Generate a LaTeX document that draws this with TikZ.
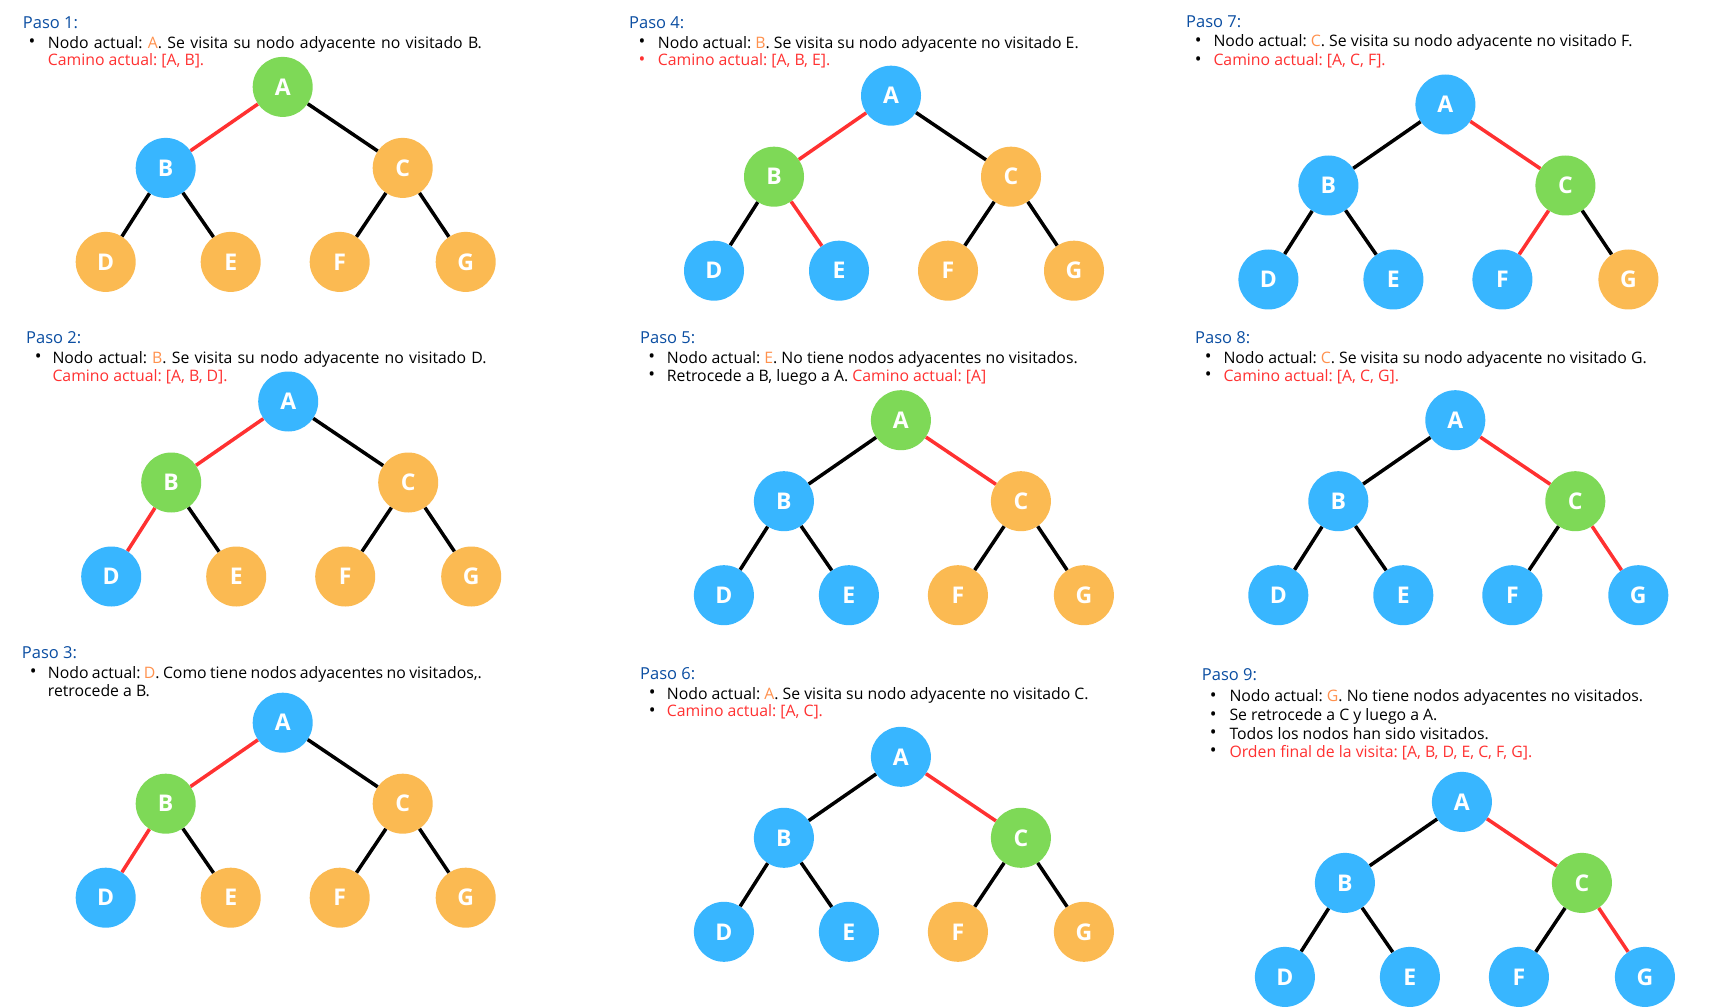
\documentclass[tikz,border=0pt]{standalone}
\usepackage{fontspec}
\setmainfont{Open Sans}
\definecolor{gn}{HTML}{7ED957}
\definecolor{bl}{HTML}{38B6FF}
\definecolor{orn}{HTML}{FBBA52}
\definecolor{ora}{HTML}{FF914D}
\definecolor{rd}{HTML}{FF3131}
\definecolor{hd}{HTML}{0B4EA2}
\tikzset{
  nd/.style={circle,minimum size=60pt,inner sep=0pt,text=white,font=\fontsize{23}{23}\selectfont\bfseries},
  eblk/.style={line width=3.5pt,draw=black},
  ered/.style={line width=3.5pt,draw=rd},
  txt/.style={anchor=base west,inner sep=0pt,font=\fontsize{15.8}{18}\selectfont\frenchspacing},
  hdg/.style={anchor=base west,inner sep=0pt,text=hd,font=\fontsize{16.5}{18}\selectfont},
  bul/.style={anchor=center,inner sep=0pt,yshift=5pt,font=\fontsize{18}{18}\selectfont},
}
\def\setcols#1/#2/#3/#4/#5/#6/#7\relax{\def\tcA{#1}\def\tcB{#2}\def\tcC{#3}\def\tcD{#4}\def\tcE{#5}\def\tcF{#6}\def\tcG{#7}}
\def\setedges#1/#2/#3/#4/#5/#6\relax{\def\teAB{#1}\def\teAC{#2}\def\teBD{#3}\def\teBE{#4}\def\teCF{#5}\def\teCG{#6}}
\newcommand\arbol[5]{%
  \setcols#4\relax\setedges#5\relax
  \begin{scope}[shift={(#2,#3)}]
    \node[nd,fill=\tcA] (#1A) at (0,0) {A};
    \node[nd,fill=\tcB] (#1B) at (-117,81) {B};
    \node[nd,fill=\tcC] (#1C) at (120,81) {C};
    \node[nd,fill=\tcD] (#1D) at (-177,175) {D};
    \node[nd,fill=\tcE] (#1E) at (-52,175) {E};
    \node[nd,fill=\tcF] (#1F) at (57,175) {F};
    \node[nd,fill=\tcG] (#1G) at (183,175) {G};
    \draw[\teAB] (#1A) -- (#1B);
    \draw[\teAC] (#1A) -- (#1C);
    \draw[\teBD] (#1B) -- (#1D);
    \draw[\teBE] (#1B) -- (#1E);
    \draw[\teCF] (#1C) -- (#1F);
    \draw[\teCG] (#1C) -- (#1G);
  \end{scope}}
\newcommand\oc[1]{\textcolor{ora}{#1}}
\begin{document}
\begin{tikzpicture}[x=1pt,y=-1pt]
\fill[white] (0,0) rectangle (1724,1008);
\useasboundingbox (0,0) rectangle (1724,1008);
% Paso 1
\node[hdg] (h1) at (22.7,28.3) {Paso 1:};
\node[bul] (b11) at (32,48.3) {\textbullet};
\node[txt] (t11) at (47.7,48.3) {\makebox[434pt][s]{Nodo actual: \oc{A}. Se visita su nodo adyacente no visitado B.}};
\node[txt,text=rd] (t12) at (47.7,66) {Camino actual: [A, B].};
\arbol{p1}{282.7}{86.9}{gn/bl/orn/orn/orn/orn/orn}{ered/eblk/eblk/eblk/eblk/eblk}
% Paso 2
\node[hdg] (h2) at (26,343.3) {Paso 2:};
\node[bul] (b21) at (38.3,363.3) {\textbullet};
\node[txt] (t21) at (52.3,363.3) {\makebox[434pt][s]{Nodo actual: \oc{B}. Se visita su nodo adyacente no visitado D.}};
\node[txt,text=rd] (t22) at (52.3,381) {Camino actual: [A, B, D].};
\arbol{p2}{288.2}{401.5}{bl/gn/orn/bl/orn/orn/orn}{ered/eblk/ered/eblk/eblk/eblk}
% Paso 3
\node[hdg] (h3) at (21.7,658.3) {Paso 3:};
\node[bul] (b31) at (33.3,678.3) {\textbullet};
\node[txt] (t31) at (47.7,678.3) {\makebox[434pt][s]{Nodo actual: \oc{D}. Como tiene nodos adyacentes no visitados,.}};
\node[txt] (t32) at (47.7,696) {retrocede a B.};
\arbol{p3}{282.7}{722.7}{bl/gn/orn/bl/orn/orn/orn}{ered/eblk/ered/eblk/eblk/eblk}
% Paso 4
\node[hdg] (h4) at (629,28.3) {Paso 4:};
\node[bul] (b41) at (642,48.3) {\textbullet};
\node[txt] (t41) at (657.7,48.3) {Nodo actual: \oc{B}. Se visita su nodo adyacente no visitado E.};
\node[bul,text=rd] (b42) at (642,66) {\textbullet};
\node[txt,text=rd] (t42) at (657.7,66) {Camino actual: [A, B, E].};
\arbol{p4}{891}{95.7}{bl/gn/orn/bl/bl/orn/orn}{ered/eblk/eblk/ered/eblk/eblk}
% Paso 5
\node[hdg] (h5) at (640,343.3) {Paso 5:};
\node[bul] (b51) at (651.7,363.3) {\textbullet};
\node[txt] (t51) at (666.7,363.3) {Nodo actual: \oc{E}. No tiene nodos adyacentes no visitados.};
\node[bul] (b52) at (651.7,381) {\textbullet};
\node[txt] (t52) at (666.7,381) {Retrocede a B, luego a A. \textcolor{rd}{Camino actual: [A]}};
\arbol{p5}{900.9}{420.2}{gn/bl/orn/bl/bl/orn/orn}{eblk/ered/eblk/eblk/eblk/eblk}
% Paso 6
\node[hdg] (h6) at (640,679.3) {Paso 6:};
\node[bul] (b61) at (652.3,699.3) {\textbullet};
\node[txt] (t61) at (666.7,699.3) {Nodo actual: \oc{A}. Se visita su nodo adyacente no visitado C.};
\node[bul] (b62) at (652.3,716.7) {\textbullet};
\node[txt,text=rd] (t62) at (666.7,716.7) {Camino actual: [A, C].};
\arbol{p6}{900.9}{756.8}{bl/bl/gn/bl/bl/orn/orn}{eblk/ered/eblk/eblk/eblk/eblk}
% Paso 7
\node[hdg] (h7) at (1186,28) {Paso 7:};
\node[bul] (b71) at (1198.3,47) {\textbullet};
\node[txt] (t71) at (1213.3,47) {Nodo actual: \oc{C}. Se visita su nodo adyacente no visitado F.};
\node[bul] (b72) at (1198.3,65.7) {\textbullet};
\node[txt,text=rd] (t72) at (1213.3,65.7) {Camino actual: [A, C, F].};
\arbol{p7}{1445.4}{104.5}{bl/bl/gn/bl/bl/bl/orn}{eblk/ered/eblk/eblk/ered/eblk}
% Paso 8
\node[hdg] (h8) at (1195,343.3) {Paso 8:};
\node[bul] (b81) at (1208.3,363.3) {\textbullet};
\node[txt] (t81) at (1223.3,363.3) {Nodo actual: \oc{C}. Se visita su nodo adyacente no visitado G.};
\node[bul] (b82) at (1208.3,381) {\textbullet};
\node[txt,text=rd] (t82) at (1223.3,381) {Camino actual: [A, C, G].};
\arbol{p8}{1455.3}{420.2}{bl/bl/gn/bl/bl/bl/bl}{eblk/ered/eblk/eblk/eblk/ered}
% Paso 9
\node[hdg] (h9) at (1201.7,680) {Paso 9:};
\node[bul] (b91) at (1213.3,701.7) {\textbullet};
\node[txt] (t91) at (1229.3,701.7) {Nodo actual: \oc{G}. No tiene nodos adyacentes no visitados.};
\node[bul] (b92) at (1213.3,720.7) {\textbullet};
\node[txt] (t92) at (1229.3,720.7) {Se retrocede a C y luego a A.};
\node[bul] (b93) at (1213.3,739.3) {\textbullet};
\node[txt] (t93) at (1229.3,739.3) {Todos los nodos han sido visitados.};
\node[bul] (b94) at (1213.3,757.3) {\textbullet};
\node[txt,text=rd] (t94) at (1229.3,757.3) {Orden final de la visita: [A, B, D, E, C, F, G].};
\arbol{p9}{1461.9}{801.9}{bl/bl/gn/bl/bl/bl/bl}{eblk/ered/eblk/eblk/eblk/ered}
\end{tikzpicture}
\end{document}
